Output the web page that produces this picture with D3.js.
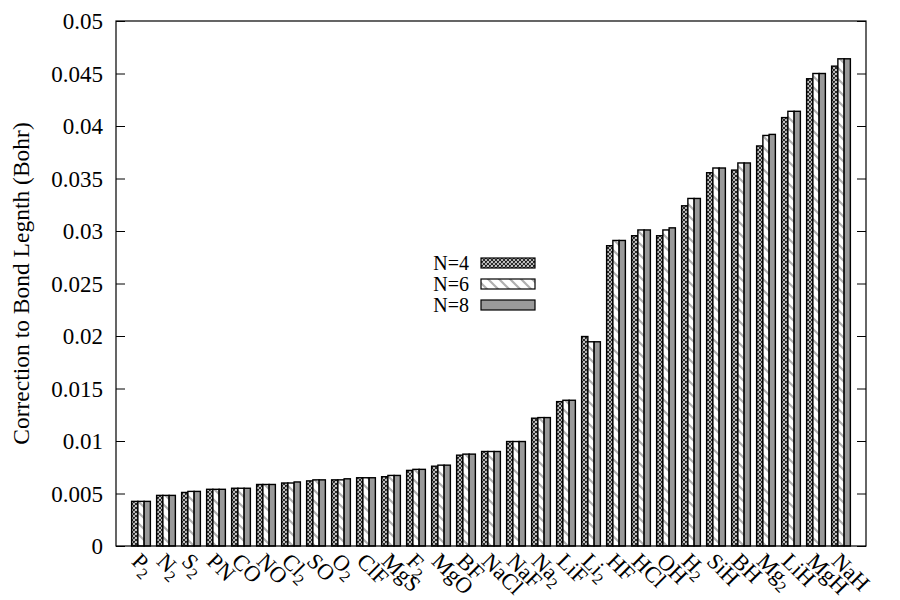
<!DOCTYPE html>
<html><head><meta charset="utf-8">
<script src="https://cdn.jsdelivr.net/npm/d3@7"></script>
<style>body{margin:0;background:#fff}</style>
</head><body><svg id="c" width="900" height="600"></svg>
<script>
const categories = ["P2","N2","S2","PN","CO","NO","Cl2","SO","O2","ClF","MgS","F2","MgO","BF","NaCl","NaF","Na2","LiF","Li2","HF","HCl","OH","H2","SiH","BH","Mg2","LiH","MgH","NaH"];
const seriesNames = ["N=4","N=6","N=8"];
const n4 = [0.00425,0.00482,0.0051,0.0054,0.0055,0.00586,0.0060,0.0062,0.0063,0.0065,0.0066,0.0072,0.0076,0.00865,0.0090,0.00995,0.01217,0.01375,0.01995,0.0286,0.02955,0.02955,0.0324,0.03555,0.0358,0.0381,0.0408,0.0445,0.0457];
const n6 = [0.00425,0.00482,0.0052,0.0054,0.0055,0.00586,0.0060,0.0063,0.0063,0.0065,0.00672,0.0073,0.0077,0.00875,0.0090,0.00995,0.01223,0.01388,0.01945,0.0291,0.0301,0.0301,0.0331,0.0360,0.03648,0.0391,0.0414,0.0450,0.0464];
const n8 = [0.00425,0.00482,0.0052,0.0054,0.0055,0.00586,0.0061,0.0063,0.0064,0.0065,0.00672,0.0073,0.0077,0.00875,0.0090,0.00995,0.01223,0.01388,0.01945,0.0291,0.0301,0.0303,0.0331,0.0360,0.03648,0.0392,0.0414,0.0450,0.0464];
const yTicks = [0,0.005,0.01,0.015,0.02,0.025,0.03,0.035,0.04,0.045,0.05];
const yTickLabels = ["0","0.005","0.01","0.015","0.02","0.025","0.03","0.035","0.04","0.045","0.05"];
const yLabel = "Correction to Bond Legnth (Bohr)";

const FONT = "'Liberation Serif', 'DejaVu Serif', serif";
const series = [n4,n6,n8];
const fills = ["url(#pCross)","url(#pDiag)","#9a9a9a"];
const L=116, R=866, T=21, B=546;
const svg = d3.select("#c");
const defs = svg.append("defs");
const p1 = defs.append("pattern").attr("id","pCross").attr("patternUnits","userSpaceOnUse").attr("width",4).attr("height",4);
p1.append("rect").attr("width",4).attr("height",4).attr("fill","#fff");
p1.append("path").attr("d","M0,0L4,4M4,0L0,4M-1,3L1,5M3,-1L5,1M-1,1L1,-1M3,5L5,3").attr("stroke","#222").attr("stroke-width",1.2);
const p2 = defs.append("pattern").attr("id","pDiag").attr("patternUnits","userSpaceOnUse").attr("width",11).attr("height",11);
p2.append("rect").attr("width",11).attr("height",11).attr("fill","#fff");
p2.append("path").attr("d","M-2,-2L13,13M-2,9L2,13M9,-2L13,2").attr("stroke","#b0b0b0").attr("stroke-width",2.2);

const x = d3.scaleLinear().domain([-1,29]).range([L,R]);
const y = d3.scaleLinear().domain([0,0.05]).range([B,T]);
const unit = x(1)-x(0);
const bw = unit*0.25;

const g = svg.append("g");
series.forEach((s,si)=>{
  g.selectAll(".b"+si).data(s).join("rect")
    .attr("x",(d,i)=>x(i)+(si-1.5)*bw)
    .attr("y",d=>y(d)).attr("width",bw).attr("height",d=>B-y(d))
    .attr("fill",fills[si]).attr("stroke","#000").attr("stroke-width",1.4);
});

// axes
const yAxisL = d3.axisLeft(y).tickValues(yTicks).tickFormat((d,i)=>yTickLabels[i]).tickSize(-9).tickPadding(13);
const ga = svg.append("g").attr("transform",`translate(${L},0)`).call(yAxisL);
ga.attr("font-family",FONT);
ga.select(".domain").remove();
ga.selectAll("line").attr("stroke","#000");
ga.selectAll("text").attr("font-size",23).attr("font-family",FONT).attr("fill","#000").attr("dy","0.33em");
const yAxisR = d3.axisRight(y).tickValues(yTicks).tickFormat("").tickSize(-9);
const gr = svg.append("g").attr("transform",`translate(${R},0)`).call(yAxisR);
gr.select(".domain").remove();
gr.selectAll("line").attr("stroke","#000");
svg.append("rect").attr("x",L).attr("y",T).attr("width",R-L).attr("height",B-T).attr("fill","none").attr("stroke","#000").attr("stroke-width",1.2);

// x labels
const xl = svg.append("g").attr("font-family",FONT);
categories.forEach((c,i)=>{
  const t = xl.append("text").attr("font-size",22.5).attr("font-family",FONT)
    .attr("transform",`translate(${x(i)+1},${B+5}) rotate(45)`).attr("dy","0.72em");
  const parts = c.match(/[^0-9]+|[0-9]+/g);
  parts.forEach(p=>{
    if(/[0-9]/.test(p)) t.append("tspan").attr("font-size",16).attr("dy","5").text(p);
    else t.append("tspan").text(p);
  });
});

svg.append("text").attr("font-size",23.5).attr("font-family",FONT).attr("text-anchor","middle")
  .attr("transform",`translate(29,${(T+B)/2}) rotate(-90)`).text(yLabel);

// legend
const lg = svg.append("g");
seriesNames.forEach((n,i)=>{
  const yy = 263 + i*21;
  lg.append("text").attr("x",469).attr("y",yy).attr("dy","0.33em").attr("text-anchor","end").attr("font-size",20).attr("font-family",FONT).text(n);
  lg.append("rect").attr("x",481).attr("y",yy-5).attr("width",54).attr("height",10)
    .attr("fill",fills[i]).attr("stroke","#000").attr("stroke-width",1.2);
});
</script></body></html>
